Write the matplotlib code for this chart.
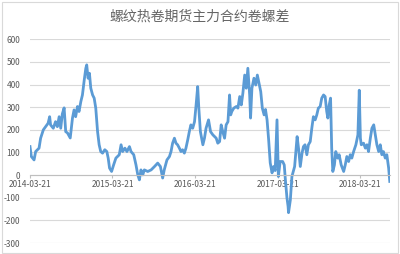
import pandas as pd
import matplotlib
matplotlib.use("Agg")
import matplotlib.pyplot as plt
import matplotlib.patches as patches

plt.rcParams['font.family'] = ['Noto Sans CJK SC', 'DejaVu Sans']
plt.rcParams['axes.unicode_minus'] = False

title = "螺纹热卷期货主力合约卷螺差"

dates = [
    "2014-03-21", "2014-03-27", "2014-04-08", "2014-04-15", "2014-04-30", "2014-05-07",
    "2014-05-19", "2014-05-29", "2014-06-09", "2014-06-16", "2014-06-20", "2014-07-02",
    "2014-07-12", "2014-07-20", "2014-07-28", "2014-08-04", "2014-08-11", "2014-08-19",
    "2014-08-26", "2014-09-03", "2014-09-15", "2014-09-25", "2014-10-02", "2014-10-09",
    "2014-10-17", "2014-10-24", "2014-11-01", "2014-11-08", "2014-11-16", "2014-11-23",
    "2014-11-27", "2014-12-03", "2014-12-09", "2014-12-15", "2014-12-23", "2014-12-30",
    "2015-01-06", "2015-01-14", "2015-01-21", "2015-01-28", "2015-02-05", "2015-02-15",
    "2015-02-24", "2015-03-02", "2015-03-08", "2015-03-17", "2015-03-26", "2015-04-05",
    "2015-04-20", "2015-04-28", "2015-05-05", "2015-05-15", "2015-05-24", "2015-06-04",
    "2015-06-11", "2015-06-23", "2015-07-03", "2015-07-11", "2015-07-18", "2015-07-25",
    "2015-08-02", "2015-08-09", "2015-08-24", "2015-09-08", "2015-09-23", "2015-10-07",
    "2015-10-19", "2015-10-29", "2015-11-05", "2015-11-17", "2015-11-28", "2015-12-05",
    "2015-12-12", "2015-12-20", "2015-12-27", "2016-01-03", "2016-01-11", "2016-01-18",
    "2016-01-25", "2016-02-02", "2016-02-09", "2016-02-17", "2016-02-24", "2016-03-02",
    "2016-03-10", "2016-03-18", "2016-03-25", "2016-04-01", "2016-04-06", "2016-04-13",
    "2016-04-24", "2016-05-01", "2016-05-08", "2016-05-19", "2016-05-28", "2016-06-07",
    "2016-06-22", "2016-06-29", "2016-07-07", "2016-07-14", "2016-07-21", "2016-07-29",
    "2016-08-05", "2016-08-13", "2016-08-20", "2016-08-25", "2016-08-30", "2016-09-08",
    "2016-09-19", "2016-09-26", "2016-10-04", "2016-10-11", "2016-10-18", "2016-10-26",
    "2016-11-02", "2016-11-09", "2016-11-17", "2016-11-21", "2016-11-27", "2016-12-06",
    "2016-12-14", "2016-12-21", "2016-12-27", "2017-01-05", "2017-01-12", "2017-01-20",
    "2017-01-26", "2017-02-02", "2017-02-09", "2017-02-16", "2017-02-24", "2017-03-03",
    "2017-03-10", "2017-03-18", "2017-03-24", "2017-04-01", "2017-04-12", "2017-04-19",
    "2017-04-24", "2017-05-01", "2017-05-06", "2017-05-08", "2017-05-16", "2017-05-23",
    "2017-06-04", "2017-06-15", "2017-06-22", "2017-06-29", "2017-07-07", "2017-07-13",
    "2017-07-20", "2017-07-28", "2017-08-04", "2017-08-12", "2017-08-19", "2017-08-26",
    "2017-09-03", "2017-09-10", "2017-09-17", "2017-09-25", "2017-10-02", "2017-10-10",
    "2017-10-17", "2017-10-24", "2017-10-29", "2017-11-04", "2017-11-10", "2017-11-15",
    "2017-11-20", "2017-11-27", "2017-12-03", "2017-12-12", "2017-12-18", "2017-12-27",
    "2018-01-07", "2018-01-14", "2018-01-21", "2018-01-29", "2018-02-05", "2018-02-12",
    "2018-02-20", "2018-03-02", "2018-03-11", "2018-03-17", "2018-03-22", "2018-03-26",
    "2018-04-05", "2018-04-13", "2018-04-20", "2018-04-27", "2018-05-05", "2018-05-12",
    "2018-05-20", "2018-05-27", "2018-06-03", "2018-06-11", "2018-06-18", "2018-06-25",
    "2018-07-02", "2018-07-10", "2018-07-17", "2018-07-25", "2018-07-30",
]

spread = [
    126, 82, 67, 104, 119, 163,
    200, 214, 229, 258, 222, 207,
    236, 214, 258, 207, 270, 297,
    192, 186, 164, 252, 288, 258,
    303, 281, 325, 354, 420, 472,
    487, 428, 450, 384, 354, 340,
    296, 192, 134, 104, 97, 112,
    104, 75, 31, 16, 45, 75,
    90, 134, 104, 119, 104, 126,
    104, 90, 45, 1, -21, 23,
    1, 23, 16, 23, 38, 53,
    38, -13, 23, 67, 82, 104,
    141, 163, 141, 134, 119, 104,
    112, 97, 119, 156, 192, 222,
    207, 236, 310, 391, 296, 192,
    134, 163, 207, 244, 192, 178,
    163, 141, 148, 222, 192, 163,
    222, 236, 354, 266, 281, 296,
    303, 296, 347, 310, 362, 442,
    384, 472, 354, 252, 384, 428,
    398, 442, 413, 369, 296, 266,
    290, 244, 156, 54, 10, 38,
    20, 244, -6, 60, 60, 45,
    -20, -100, -138, -166, -110, -6,
    38, 170, 112, 38, 98, 126,
    134, 90, 134, 148, 207, 258,
    244, 266, 296, 303, 340, 354,
    347, 281, 252, 310, 340, 119,
    16, 45, 104, 75, 90, 45,
    16, 45, 82, 60, 90, 75,
    104, 134, 178, 375, 163, 134,
    141, 119, 134, 104, 163, 207,
    222, 178, 134, 104, 134, 90,
    104, 75, 90, 31, -28,
]

tick_labels = ["2014-03-21", "2015-03-21", "2016-03-21", "2017-03-21", "2018-03-21"]
y_ticks = [-300, -200, -100, 0, 100, 200, 300, 400, 500, 600]

x = pd.to_datetime(dates)
ticks = pd.to_datetime(tick_labels)

grey_text = '#595959'
grid_col = '#d9d9d9'

fig = plt.figure(figsize=(4, 2.54), dpi=100)
ax = fig.add_axes([0.075, 0.0433, 0.9, 0.802])

ax.plot(x, spread, color='#5b9bd5', lw=2.0, solid_joinstyle='round')

ax.set_ylim(-300, 600)
ax.set_xlim(x[0], pd.Timestamp("2018-07-31"))
ax.set_yticks(y_ticks)
ax.set_xticks(ticks)
ax.set_xticklabels(tick_labels)

ax.grid(axis='y', color=grid_col, lw=0.8)
ax.set_axisbelow(True)
for s in ['top', 'right', 'left']:
    ax.spines[s].set_visible(False)
ax.spines['bottom'].set_position(('data', 0))
ax.spines['bottom'].set_color('#bfbfbf')
ax.spines['bottom'].set_linewidth(0.8)

ax.tick_params(axis='y', length=0, labelsize=6, labelcolor=grey_text, pad=7)
ax.tick_params(axis='x', length=2.5, color='#bfbfbf', labelsize=6,
               labelcolor=grey_text, pad=1)

fig.text(0.5, 0.935, title, ha='center', va='center', fontsize=10, color='#666666')

# light frame around the whole chart
fig.patches.append(patches.Rectangle((0.004, 0.004), 0.99, 0.99, transform=fig.transFigure,
                                     fill=False, edgecolor='#d9d9d9', lw=0.8))

fig.savefig("out.png", dpi=100)
